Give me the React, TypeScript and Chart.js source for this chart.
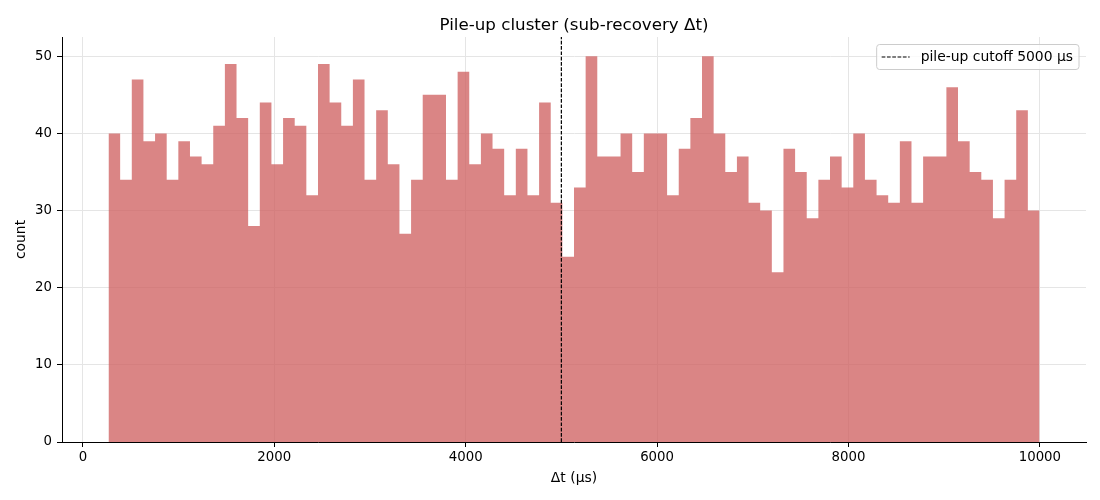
import { useEffect, useRef } from "react";
import Chart from "chart.js/auto";

const TITLE = "Pile-up cluster (sub-recovery Δt)";
const X_LABEL = "Δt (µs)";
const Y_LABEL = "count";

// histogram: 80 bins from ~268 µs to ~10000 µs
const BIN_START = 268;
const BIN_WIDTH = 121.6;
const COUNTS = [
  40, 34, 47, 39, 40, 34, 39, 37, 36, 41,
  49, 42, 28, 44, 36, 42, 41, 32, 49, 44,
  41, 47, 34, 43, 36, 27, 34, 45, 45, 34,
  48, 36, 40, 38, 32, 38, 32, 44, 31, 24,
  33, 50, 37, 37, 40, 35, 40, 40, 32, 38,
  42, 50, 40, 35, 37, 31, 30, 22, 38, 35,
  29, 34, 37, 33, 40, 34, 32, 31, 39, 31,
  37, 37, 46, 39, 35, 34, 29, 34, 43, 30,
];

const CUTOFF = 5000;
const CUTOFF_LABEL = `pile-up cutoff ${CUTOFF} µs`;

const X_TICKS = [0, 2000, 4000, 6000, 8000, 10000];
const Y_TICKS = [0, 10, 20, 30, 40, 50];
const X_MIN = -218;
const X_MAX = 10482;
const Y_MAX = 52.5;

const FONT = "'DejaVu Sans', sans-serif";
const DASH = [3.7, 1.6];

// title centred over the plot area, like matplotlib does
const axesTitle = {
  id: "axesTitle",
  afterDraw(chart: any) {
    const { ctx, chartArea } = chart;
    ctx.save();
    ctx.font = `16.7px ${FONT}`;
    ctx.fillStyle = "#000";
    ctx.textAlign = "center";
    ctx.textBaseline = "alphabetic";
    ctx.fillText(TITLE, (chartArea.left + chartArea.right) / 2, 29.5);
    ctx.restore();
  },
};

// matplotlib-like legend box inside the plot
const legendBox = {
  id: "legendBox",
  afterDraw(chart: any) {
    const { ctx, chartArea } = chart;
    ctx.save();
    ctx.font = `13.9px ${FONT}`;
    const tw = ctx.measureText(CUTOFF_LABEL).width;
    const w = 5 + 28 + 11 + tw + 6;
    const h = 25;
    const x = chartArea.right - 7 - w;
    const y = chartArea.top + 7.5;
    ctx.beginPath();
    ctx.roundRect(x, y, w, h, 3);
    ctx.fillStyle = "rgba(255,255,255,0.8)";
    ctx.fill();
    ctx.strokeStyle = "#cccccc";
    ctx.lineWidth = 1;
    ctx.stroke();

    ctx.beginPath();
    ctx.setLineDash(DASH);
    ctx.strokeStyle = "#000";
    ctx.lineWidth = 1.2;
    ctx.moveTo(x + 5, y + h / 2);
    ctx.lineTo(x + 33, y + h / 2);
    ctx.stroke();
    ctx.setLineDash([]);

    ctx.fillStyle = "#000";
    ctx.textBaseline = "middle";
    ctx.textAlign = "left";
    ctx.fillText(CUTOFF_LABEL, x + 44, y + h / 2 + 0.5);
    ctx.restore();
  },
};

const App = () => {
  const canvasRef = useRef<HTMLCanvasElement>(null);

  useEffect(() => {
    if (!canvasRef.current) return;
    // step outline of the histogram: one point per bin's left edge, plus the closing right edge
    const steps = COUNTS.map((c, i) => ({ x: BIN_START + i * BIN_WIDTH, y: c }));
    steps.push({ x: BIN_START + COUNTS.length * BIN_WIDTH, y: COUNTS[COUNTS.length - 1] });

    const chart = new Chart(canvasRef.current, {
      type: "line",
      data: {
        datasets: [
          {
            label: CUTOFF_LABEL,
            data: [
              { x: CUTOFF, y: 0 },
              { x: CUTOFF, y: Y_MAX },
            ],
            borderColor: "#000",
            borderWidth: 1.2,
            borderDash: DASH,
            pointRadius: 0,
            fill: false,
            order: 0,
          },
          {
            label: "counts",
            data: steps,
            stepped: "before",
            fill: "origin",
            backgroundColor: "rgba(205,92,92,0.75)",
            borderColor: "rgba(0,0,0,0)",
            borderWidth: 0,
            pointRadius: 0,
            order: 1,
          },
        ] as any,
      },
      options: {
        responsive: false,
        animation: false,
        layout: { padding: { left: 0, right: 14, top: 37, bottom: 0 } },
        plugins: {
          legend: { display: false },
          tooltip: { enabled: false },
          title: { display: false },
        },
        scales: {
          x: {
            type: "linear",
            min: X_MIN,
            max: X_MAX,
            offset: false,
            afterBuildTicks: (s: any) => {
              s.ticks = X_TICKS.map((v) => ({ value: v }));
            },
            afterFit: (s: any) => {
              s.height = 58;
            },
            grid: {
              color: "#e5e5e5",
              tickColor: "#000",
              tickLength: 5,
              tickWidth: 1,
            },
            border: { display: true, color: "#000", width: 1 },
            ticks: {
              color: "#000",
              font: { family: FONT, size: 13.3 },
              padding: 3,
              maxRotation: 0,
              callback: (v: any) => String(v),
            },
            title: {
              display: true,
              text: X_LABEL,
              color: "#000",
              font: { family: FONT, size: 13.9 },
              padding: { top: 0, bottom: 13 },
            },
          },
          y: {
            type: "linear",
            min: 0,
            max: Y_MAX,
            afterBuildTicks: (s: any) => {
              s.ticks = Y_TICKS.map((v) => ({ value: v }));
            },
            afterFit: (s: any) => {
              s.width = 62;
            },
            grid: {
              color: "#e5e5e5",
              tickColor: "#000",
              tickLength: 5,
              tickWidth: 1,
            },
            border: { display: true, color: "#000", width: 1 },
            ticks: {
              color: "#000",
              font: { family: FONT, size: 13.3 },
              padding: 5,
              callback: (v: any) => String(v),
            },
            title: {
              display: true,
              text: Y_LABEL,
              color: "#000",
              font: { family: FONT, size: 13.9 },
              padding: { top: 13.5, bottom: 0 },
            },
          },
        },
      },
      plugins: [axesTitle, legendBox],
    });

    return () => {
      chart.destroy();
    };
  }, []);

  return (
    <div style={{ position: "fixed", left: 0, top: 0, width: 1100, height: 500, background: "#fff" }}>
      <canvas ref={canvasRef} width={1100} height={500} />
    </div>
  );
};

export default App;
